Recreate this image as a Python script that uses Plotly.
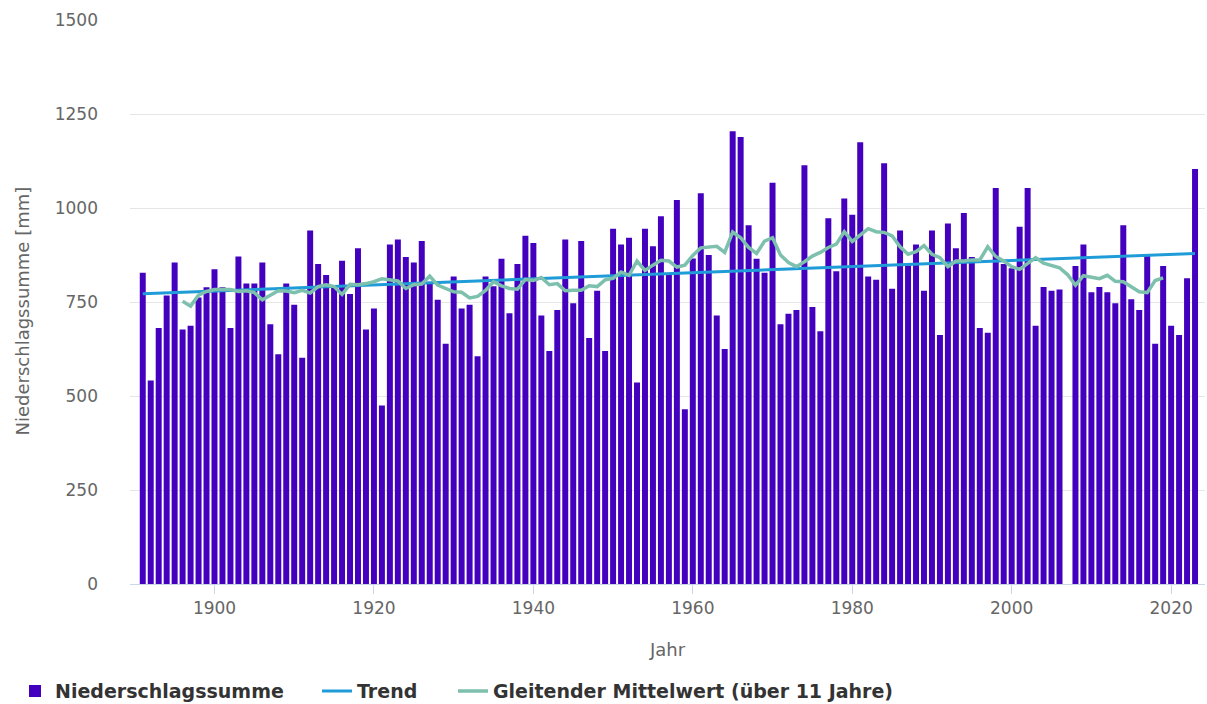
import plotly.graph_objects as go

# Jährliche Niederschlagssumme 1891-2023 (2007 ohne Wert)
years = list(range(1891, 2024))
precip_mm = [
    828, 541, 681, 767, 855, 677, 687, 762, 789,            # 1891-1899
    837, 789, 681, 871, 799, 799, 855, 691, 611, 799,       # 1900-1909
    743, 602, 940, 851, 822, 790, 860, 771, 893, 677,       # 1910-1919
    733, 475, 903, 916, 870, 855, 912, 800, 756, 639,       # 1920-1929
    818, 733, 743, 606, 818, 792, 865, 720, 851, 926,       # 1930-1939
    907, 714, 620, 729, 916, 747, 912, 654, 780, 620,       # 1940-1949
    945, 903, 921, 536, 945, 898, 978, 825, 1021, 465,      # 1950-1959
    866, 1039, 875, 714, 625, 1204, 1189, 954, 865, 828,    # 1960-1969
    1067, 691, 719, 729, 1114, 737, 672, 973, 832, 1025,    # 1970-1979
    982, 1175, 818, 809, 1119, 785, 940, 848, 903, 780,     # 1980-1989
    940, 662, 959, 893, 987, 870, 681, 668, 1053, 851,      # 1990-1999
    840, 950, 1053, 687, 790, 780, 783, None, 846, 903,     # 2000-2009
    776, 790, 776, 747, 954, 757, 729, 875, 639, 846,       # 2010-2019
    687, 662, 813, 1104,                                    # 2020-2023
]

# Linearer Trend (Anfangs- und Endwert)
trend_years = [1891, 2023]
trend_mm = [772, 879]

# Gleitender Mittelwert über 11 Jahre
ma_years = list(range(1896, 2020))
ma_mm = [
    752, 739, 768, 778,                                     # 1896-1899
    783, 784, 783, 778, 780, 775, 756, 768, 780, 779,       # 1900-1909
    775, 781, 774, 791, 796, 791, 770, 797, 796, 799,       # 1910-1919
    804, 812, 808, 806, 786, 796, 798, 819, 795, 786,       # 1920-1929
    777, 776, 761, 765, 781, 804, 793, 786, 784, 810,       # 1930-1939
    807, 815, 796, 799, 780, 781, 781, 793, 791, 809,       # 1940-1949
    813, 830, 821, 859, 834, 848, 861, 859, 843, 848,       # 1950-1959
    874, 894, 896, 898, 882, 936, 921, 895, 879, 912,       # 1960-1969
    921, 875, 855, 844, 857, 872, 882, 895, 904, 937,       # 1970-1979
    911, 929, 945, 937, 935, 926, 897, 877, 884, 900,       # 1980-1989
    877, 868, 844, 859, 859, 862, 862, 897, 871, 859,       # 1990-1999
    844, 837, 853, 868, 853, 846, 841, 823, 795, 820,       # 2000-2009
    817, 812, 821, 805, 804, 790, 777, 775, 807, 814,       # 2010-2019
]

y_ticks = [0, 250, 500, 750, 1000, 1250, 1500]
x_ticks = [1900, 1920, 1940, 1960, 1980, 2000, 2020]

BAR_COLOR = "#4400bf"
TREND_COLOR = "#1f9bd7"
MA_COLOR = "#7cc0ad"
AXIS_FONT = "DejaVu Sans"
W, H = 1207, 704
MARGIN = dict(l=130, r=2, t=20, b=120)

fig = go.Figure()
fig.add_trace(go.Bar(
    x=years, y=precip_mm, name="Niederschlagssumme",
    marker=dict(color=BAR_COLOR, line=dict(width=0)),
    legend="legend",
))
fig.add_trace(go.Scatter(
    x=trend_years, y=trend_mm, name="Trend", mode="lines",
    line=dict(color=TREND_COLOR, width=3),
    legend="legend2",
))
fig.add_trace(go.Scatter(
    x=ma_years, y=ma_mm, name="Gleitender Mittelwert (über 11 Jahre)",
    mode="lines", line=dict(color=MA_COLOR, width=3.5),
    legend="legend3",
))

legend_font = dict(family="DejaVu Sans", size=19, color="#333333", weight="bold")


def legend_at(px_left):
    # one legend box per series, placed along the bottom row
    return dict(
        orientation="h", x=px_left / W, xref="container", xanchor="left",
        y=-0.19, yanchor="middle", font=legend_font, itemwidth=30,
        bgcolor="rgba(0,0,0,0)",
    )


fig.update_layout(
    width=W, height=H,
    margin=dict(**MARGIN, autoexpand=False),
    paper_bgcolor="white", plot_bgcolor="white",
    bargap=0.25,
    font=dict(family=AXIS_FONT, color="#666666", size=17),
    showlegend=True,
    legend=legend_at(15),
    legend2=legend_at(317),
    legend3=legend_at(453),
    xaxis=dict(
        range=[1889.4, 2024.25], tickvals=x_ticks,
        showgrid=False, zeroline=False,
        showline=True, linecolor="#ccd6eb", linewidth=1,
        ticks="outside", ticklen=9, tickcolor="#ccd6eb",
        tickfont=dict(size=17, color="#666666"),
        title=dict(text="Jahr", font=dict(size=18, color="#666666"), standoff=25),
    ),
    yaxis=dict(
        range=[0, 1500], tickvals=y_ticks,
        showgrid=True, gridcolor="#e6e6e6", gridwidth=1,
        zeroline=False, showline=False,
        ticklabelstandoff=31,
        tickfont=dict(size=17, color="#666666"),
    ),
    annotations=[dict(
        text="Niederschlagssumme [mm]", textangle=-90,
        xref="paper", yref="paper",
        x=(22 - MARGIN["l"]) / (W - MARGIN["l"] - MARGIN["r"]), y=0.485,
        xanchor="center", yanchor="middle", showarrow=False,
        font=dict(family=AXIS_FONT, size=18, color="#666666"),
    )],
)

fig.write_html("out.html")
